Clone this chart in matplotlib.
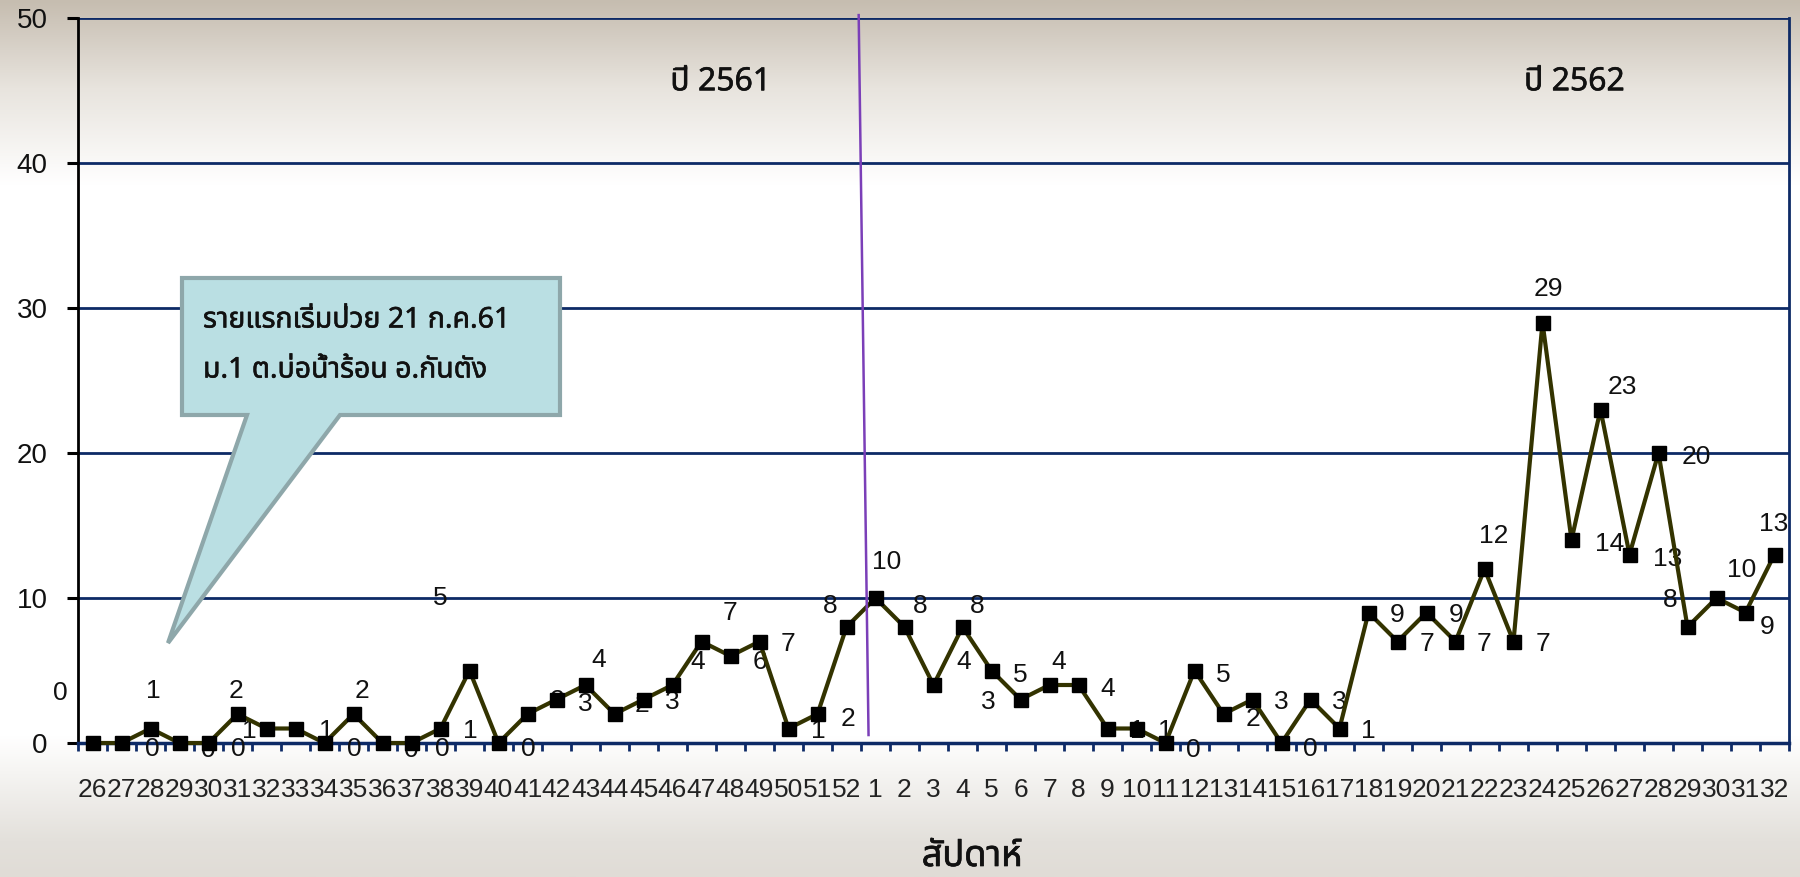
import numpy as np
import matplotlib
matplotlib.use("Agg")
import matplotlib.pyplot as plt
import matplotlib.font_manager as fm
import matplotlib.patheffects as pe
from matplotlib.ft2font import FT2Font
from matplotlib.patches import Polygon

# ---------------- data ----------------
weeks_2561 = [str(w) for w in range(26, 53)]
weeks_2562 = [str(w) for w in range(1, 33)]
week_labels = weeks_2561 + weeks_2562

cases_2561 = [0, 0, 1, 0, 0, 2, 1, 1, 0, 2, 0, 0, 1, 5, 0, 2, 3, 4, 2, 3, 4, 7, 6, 7, 1, 2, 8]
cases_2562 = [10, 8, 4, 8, 5, 3, 4, 4, 1, 1, 0, 5, 2, 3, 0, 3, 1, 9, 7, 9, 7, 12, 7,
              29, 14, 23, 13, 20, 8, 10, 9, 13]
cases = cases_2561 + cases_2562

# data labels as they appear (offset) in the original chart
label_text = ["0", "1", "0", "0", "2", "0", "1", "1", "2", "0", "0", "0", "5", "1", "0",
              "2", "3", "4", "2", "3", "4", "7", "6", "7", "1", "2", "8", "10", "8", "8",
              "4", "3", "5", "4", "4", "1", "1", "0", "5", "2", "3", "0", "3", "1", "9",
              "7", "9", "7", "12", "7", "29", "23", "14", "20", "13", "8", "10", "9", "13"]
label_x = [-1.1, 2.1, 2.05, 4.0, 4.95, 5.03, 5.4, 8.05, 9.3, 9.04, 11.0, 12.07, 12.0, 13.03, 15.04,
           16.03, 17.0, 17.45, 18.95, 20.0, 20.86, 22.0, 23.0, 24.0, 25.02, 26.05, 25.45, 27.4, 28.55, 30.5,
           30.03, 30.9, 32.0, 33.3, 35.0, 36.03, 37.0, 37.95, 39.0, 40.03, 41.0, 42.0, 43.0, 44.0, 45.0,
           46.03, 47.02, 48.0, 48.3, 50.03, 50.2, 52.75, 52.3, 55.3, 54.3, 54.4, 56.85, 57.75, 57.97]
label_y = [3.45, 3.6, -0.4, -0.45, 3.6, -0.4, 0.85, 0.85, 3.6, -0.4, -0.45, -0.4, 10.0, 0.85, -0.4,
           2.9, 2.7, 5.7, 2.6, 2.8, 5.56, 8.94, 5.6, 6.8, 0.85, 1.65, 9.47, 12.46, 9.47, 9.47,
           5.56, 2.8, 4.7, 5.56, 3.7, 0.85, 0.85, -0.5, 4.7, 1.65, 2.8, -0.4, 2.8, 0.85, 8.8,
           6.8, 8.8, 6.8, 14.3, 6.8, 31.3, 24.56, 13.7, 19.75, 12.7, 9.86, 11.9, 8.0, 15.1]

year_labels = ["ปี 2561", "ปี 2562"]
callout_lines = ["รายแรกเริ่มป่วย 21 ก.ค.61", "ม.1 ต.บ่อน้ำร้อน อ.กันตัง"]
x_title = "สัปดาห์"
y_ticks = [0, 10, 20, 30, 40, 50]


# ---------------- fonts ----------------
def find_thai_font():
    preferred = ["Tahoma", "Noto Sans Thai", "Noto Sans Thai UI", "Noto Sans Thai Looped",
                 "Leelawadee UI", "Loma", "Garuda", "Umpush", "Waree", "Sarabun",
                 "Kinnari", "Norasi", "Laksaman", "Sawasdee", "Tlwg Typo"]
    found = []
    for f in fm.fontManager.ttflist:
        try:
            cm = FT2Font(f.fname).get_charmap()
        except Exception:
            continue
        if 0x0E23 in cm and 0x0E31 in cm and 0x0E1B in cm:
            found.append(f.name)
    for p in preferred:
        if p in found:
            return p
    return found[0] if found else "DejaVu Sans"


thai_font = find_thai_font()
num_font = ["Liberation Sans", "DejaVu Sans"]
thai_family = [thai_font, "DejaVu Sans"]
ink = "#111111"


def boldfx(w):
    return [pe.withStroke(linewidth=w, foreground=ink)]


W, H = 1800, 877
fig = plt.figure(figsize=(W / 100, H / 100), dpi=100)

# background gradient (slide-like)
bg = fig.add_axes([0, 0, 1, 1], zorder=-10)
yy = np.linspace(0, 1, 400)
stops = [0.0, 0.10, 0.21, 0.84, 0.88, 0.96, 1.0]
cols = np.array([[198, 189, 176], [232, 228, 222], [255, 255, 255], [255, 255, 255],
                 [246, 245, 243], [227, 224, 219], [224, 220, 214]]) / 255.0
grad = np.stack([np.interp(yy, stops, cols[:, k]) for k in range(3)], axis=-1)
bg.imshow(grad[:, None, :], aspect="auto", extent=[0, 1, 1, 0])
bg.set_xlim(0, 1)
bg.set_ylim(1, 0)
bg.axis("off")

# main axes
left, right = 78 / W, 1789 / W
bottom, top = 1 - 743 / H, 1 - 18 / H
ax = fig.add_axes([left, bottom, right - left, top - bottom])
ax.patch.set_alpha(0)

navy = "#0d2a66"
x = np.arange(len(cases))
ax.plot(x, cases, color="#333300", lw=3.0, marker="s", ms=9.5, mfc="black", mec="black",
        zorder=4, clip_on=False)

ax.set_xlim(-0.5, len(cases) - 0.5)
ax.set_ylim(0, 50)

for yv in y_ticks[1:]:
    ax.axhline(yv, color=navy, lw=2.0, zorder=1)

ax.set_yticks(y_ticks)
ax.set_yticklabels([str(v) for v in y_ticks], fontfamily=num_font, fontsize=20, color=ink)
ax.tick_params(axis="y", direction="out", length=8, width=2.2, color="black", pad=14)

ax.set_xticks(x)
ax.set_xticklabels(week_labels, fontfamily=num_font, fontsize=19, color="#222222")
ax.set_xticks(np.arange(-0.5, len(cases), 1.0), minor=True)
ax.tick_params(axis="x", which="major", length=0, pad=25)
ax.tick_params(axis="x", which="minor", direction="out", length=6, width=2.0, color=navy)

ax.spines["left"].set_color("black")
ax.spines["left"].set_linewidth(2.0)
ax.spines["bottom"].set_color(navy)
ax.spines["bottom"].set_linewidth(2.5)
ax.spines["right"].set_color(navy)
ax.spines["right"].set_linewidth(2.0)
ax.spines["top"].set_visible(False)

# data labels
for t, lx, ly in zip(label_text, label_x, label_y):
    ax.text(lx, ly, t, ha="center", va="center", fontsize=19, fontfamily=num_font,
            color=ink, zorder=3)

# separator line between years
ax.plot([26.42, 26.76], [50.2, 0.55], color="#7b3fb8", lw=1.8, zorder=5, clip_on=False)

# year labels
for xi, txt in zip([21.66, 51.1], year_labels):
    ax.text(xi, 45.6, txt, ha="center", va="center", fontsize=23,
            fontfamily=thai_family, fontweight="bold", color=ink, path_effects=boldfx(0.4))

# callout
def fx(px):
    return px / W


def fy(py):
    return 1 - py / H


pts = [(182, 278), (560, 278), (560, 415), (340, 415), (168, 643), (247, 415), (182, 415)]
poly = Polygon([(fx(a), fy(b)) for a, b in pts], closed=True, transform=fig.transFigure,
               facecolor="#badfe3", edgecolor="#8ea7aa", lw=3, joinstyle="miter", zorder=6)
fig.patches.append(poly)
for yline, txt in zip([320, 370], callout_lines):
    fig.text(fx(203), fy(yline), txt, ha="left", va="center", fontsize=20.5,
             fontfamily=thai_family, fontweight="bold", color=ink, zorder=7,
             path_effects=boldfx(0.4))

# x axis title
fig.text(fx(972), fy(857), x_title, ha="center", va="center", fontsize=26,
         fontfamily=thai_family, fontweight="bold", color=ink, path_effects=boldfx(0.5))

fig.savefig("out.png", dpi=100)
